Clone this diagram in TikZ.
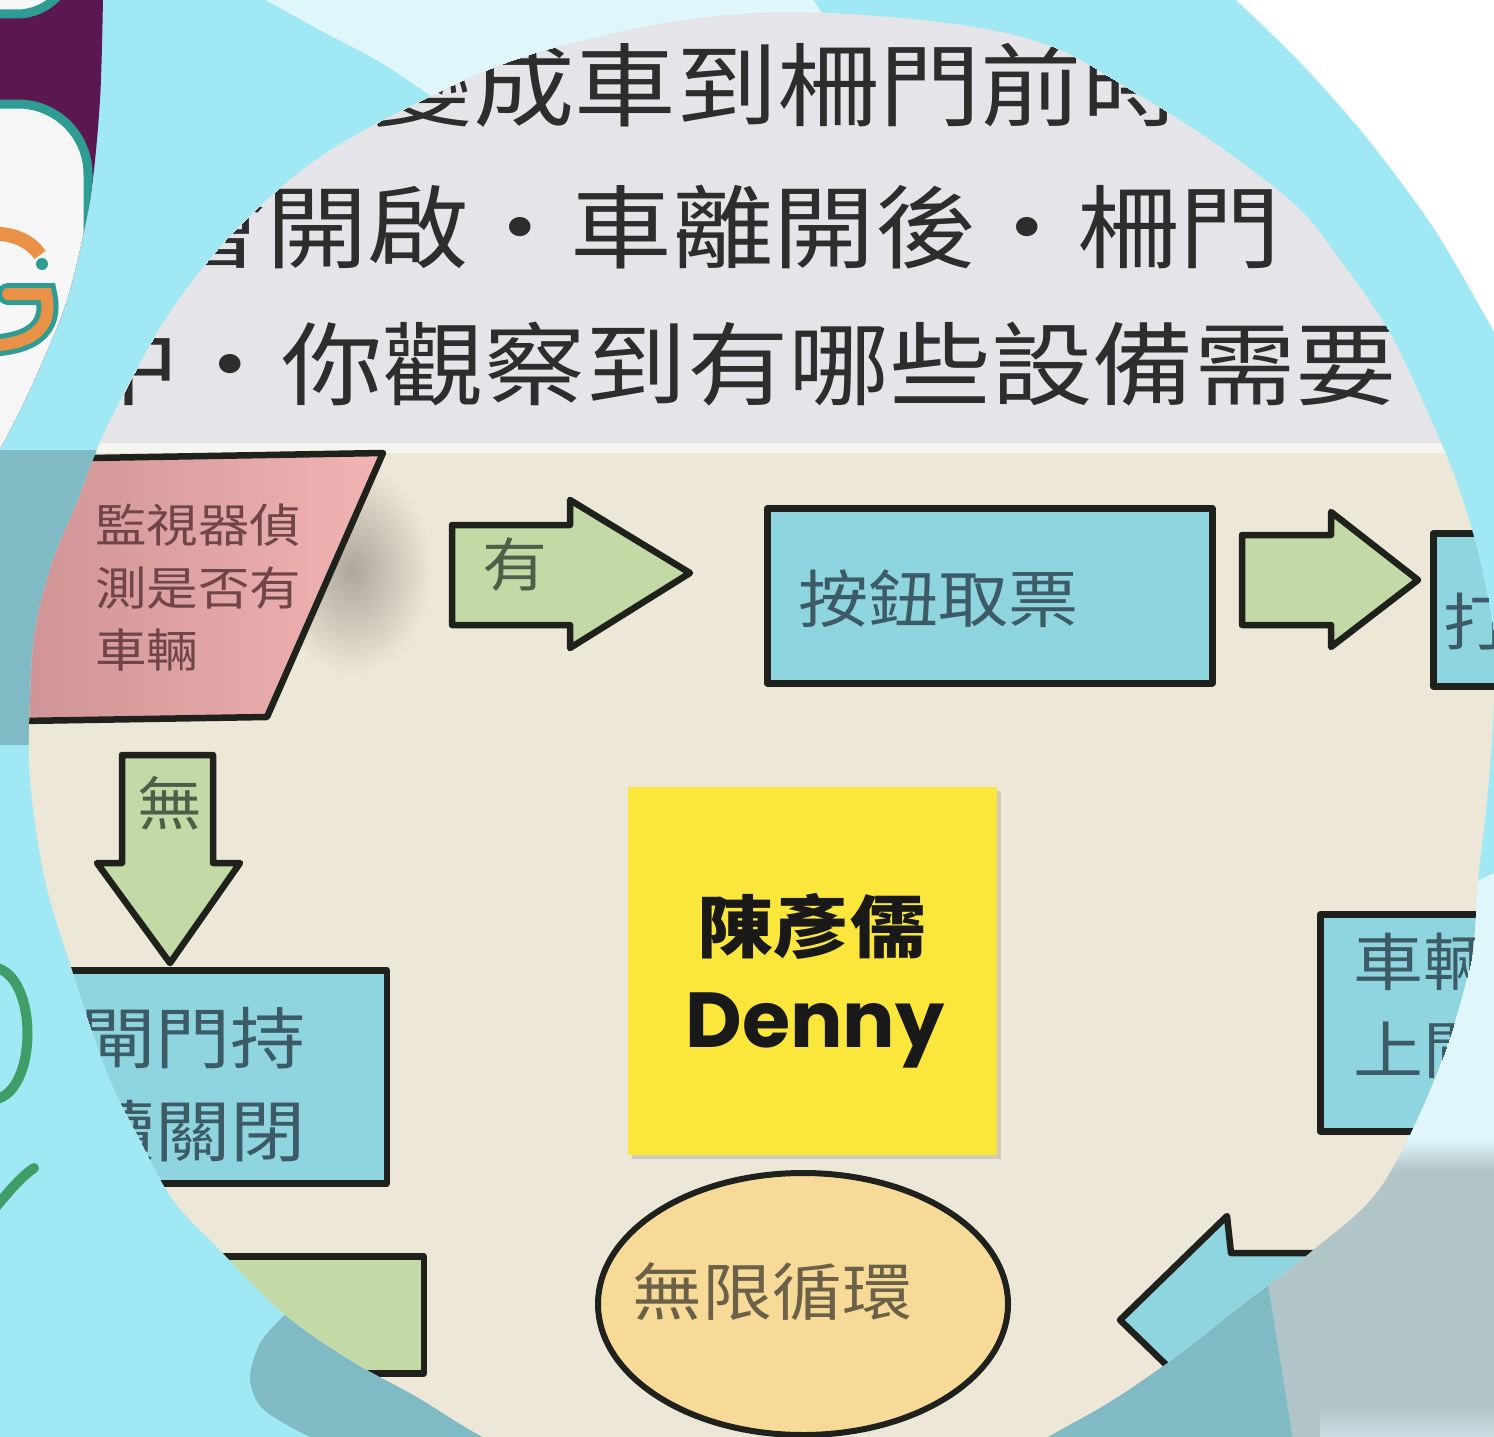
\documentclass[tikz,border=0pt]{standalone}
\usepackage{fontspec}
\newfontfamily\cjk{Noto Sans CJK TC}[FakeStretch=1.12]
\newfontfamily\pop{Poppins}
\usetikzlibrary{shapes.geometric}
\definecolor{cyanbg}{HTML}{A0E9F4}
\definecolor{lightbg}{HTML}{DFF6FA}
\definecolor{tealbg}{HTML}{80BAC5}
\definecolor{graybg}{HTML}{B1C4C8}
\definecolor{purplebg}{HTML}{5B1850}
\definecolor{logoteal}{HTML}{2E9C93}
\definecolor{logoorange}{HTML}{EA9148}
\definecolor{lettergreen}{HTML}{3F9E68}
\definecolor{beige}{HTML}{EDE7D7}
\definecolor{slidegray}{HTML}{E5E5E9}
\definecolor{stripc}{HTML}{F6F4EE}
\definecolor{ink}{HTML}{2D2D2D}
\definecolor{outline}{HTML}{1F211C}
\definecolor{boxblue}{HTML}{8FD5E0}
\definecolor{boxtext}{HTML}{3D5B66}
\definecolor{arrowgreen}{HTML}{C3DAA7}
\definecolor{greentext}{HTML}{4E5E48}
\definecolor{pinkA}{HTML}{C98E90}
\definecolor{pinkB}{HTML}{F2B4B3}
\definecolor{pinktext}{HTML}{6F4547}
\definecolor{sticky}{HTML}{FBE73C}
\definecolor{ellfill}{HTML}{F7DA98}
\definecolor{elltext}{HTML}{6B6148}
\definecolor{smudge}{HTML}{ADA69A}
\tikzset{
  shapeline/.style={draw=outline, line width=6.5, line join=round},
  boxnode/.style={shapeline, fill=boxblue, inner sep=0, rectangle},
  greenbox/.style={shapeline, fill=arrowgreen, inner sep=0, rectangle},
  rowtxt/.style={font=\cjk\fontsize{90.6}{100}\selectfont, text=ink, inner sep=0, anchor=base west},
  boxtxt/.style={font=\cjk\fontsize{62.5}{70}\selectfont, text=boxtext, inner sep=0},
  gatetxt/.style={font=\cjk\fontsize{67}{70}\selectfont, text=boxtext, inner sep=0, anchor=base east},
  greentxt/.style={font=\cjk\fontsize{58}{60}\selectfont, text=greentext, inner sep=0},
  pinktxt/.style={font=\cjk\fontsize{46}{50}\selectfont, text=pinktext, inner sep=0, anchor=base west},
}
\begin{document}
\begin{tikzpicture}[x=1pt,y=-1pt]
\useasboundingbox (0,0) rectangle (1494,1437);
\clip (0,0) rectangle (1494,1437);
% ---------- background pieces ----------
\fill[cyanbg] (-2,-2) rectangle (1496,1440);
\fill[white] plot[smooth] coordinates {(1234,-2) (1300,62) (1367,138) (1435,230) (1496,335)} -- (1496,-2) -- cycle;
\fill[lightbg] plot[smooth] coordinates {(262,-2) (320,30) (380,62) (431,96)} -- (620,80) -- (840,40) -- (812,-2) -- cycle;
\fill[lightbg] (1496,872) -- (1460,890) -- (1380,1160) -- (1496,1160) -- cycle;
\fill[graybg] (1330,1160) -- (1496,1160) -- (1496,1440) -- (1293,1440) -- (1268,1285) -- cycle;
\shade[top color=lightbg, bottom color=graybg] (1300,1138) rectangle (1496,1172);
\shade[top color=graybg, bottom color=lightbg!60!graybg] (1320,1405) rectangle (1496,1440);
\fill[tealbg] (940,1440) -- (940,1290) -- (1268,1285) -- (1293,1440) -- cycle;
\fill[tealbg] plot[smooth] coordinates {(300,1300) (262,1340) (250,1378) (262,1408) (300,1432) (340,1450)} -- (600,1450) -- (600,1300) -- cycle;
\fill[tealbg] (-2,450) rectangle (160,745);
% ---------- logo ----------
\begin{scope}
\clip plot[smooth] coordinates {(103,-2) (100,100) (90,200) (67,300) (33,383) (5,440)} -- (-2,452) -- (-2,-2) -- cycle;
\fill[purplebg] (-2,-2) rectangle (160,460);
\draw[logoteal, line width=9, fill=white!94!gray, rounded corners=55] (-200,-200) rectangle (72,14);
\draw[logoteal, line width=9, fill=white!93!gray, rounded corners=70] (-200,104) rectangle (88,900);
\draw[logoteal, line width=22, line cap=round] (8,294) -- (46,294) .. controls (54,330) and (30,346) .. (-20,346);
\draw[logoorange, line width=12, line cap=round] (8,294) -- (46,294) .. controls (54,330) and (30,346) .. (-20,346);
\draw[logoorange, line width=14] (-20,234) .. controls (10,231) and (30,240) .. (40,255);
\fill[logoteal] (42,264) circle (6);
\end{scope}
% green letters
\draw[lettergreen, line width=10] (-10,967) .. controls (40,967) and (40,1100) .. (-10,1100);
\draw[lettergreen, line width=10, line cap=round] (-5,1208) .. controls (10,1190) and (22,1176) .. (34,1168);
% ---------- round photo ----------
\begin{scope}
\clip plot[smooth cycle, tension=0.55] coordinates {(790,12) (900,18) (990,30) (1060,50) (1130,90) (1210,140) (1295,205) (1340,260) (1388,330) (1422,400) (1456,480) (1480,560) (1494,640) (1493,720) (1487,800) (1478,880) (1470,965) (1435,1078) (1380,1188) (1313,1250) (1247,1301) (1163,1366) (1080,1419) (950,1480) (750,1505) (560,1470) (483,1437) (417,1397) (350,1360) (283,1313) (217,1247) (173,1200) (140,1140) (107,1073) (73,973) (45,880) (30,780) (30,700) (35,630) (52,563) (78,500) (95,455) (113,415) (167,317) (233,233) (320,157) (431,96) (520,58) (620,32) (700,18)};
\fill[beige] (0,0) rectangle (1494,1437);
\fill[slidegray] (0,0) rectangle (1494,443);
\fill[stripc] (0,443) rectangle (1494,453);
% slide text
\node[rowtxt] (row1) at (371.5,119) {變成車到柵門前時};
\node[rowtxt] (row2) at (164.5,261) {會開啟・車離開後・柵門};
\node[rowtxt] (row3) at (78,398) {中・你觀察到有哪些設備需要};
% detector parallelogram
\shade[inner color=smudge, outer color=beige] (352,570) ellipse [x radius=80, y radius=105];
\shadedraw[left color=pinkA, right color=pinkB, draw=outline, line width=6.5, line join=round] (90,458) -- (383,453) -- (267,717) -- (-40,722) -- cycle;
\node[pinktxt] (det1) at (95,542) {監視器偵};
\node[pinktxt] (det2) at (95,605) {測是否有};
\node[pinktxt] (det3) at (95,667) {車輛};
% yes arrow
\path[fill=arrowgreen, shapeline] (452,525) -- (570,525) -- (570,500) -- (690,573) -- (570,648) -- (570,625) -- (452,625) -- cycle;
\node[greentxt] (yes) at (515,565) {有};
% ticket box
\node[boxnode, minimum width=445, minimum height=175, anchor=north west] (ticket) at (764,505) {};
\node[boxtxt, anchor=base west] (tickettxt) at (798,622) {按鈕取票};
% second arrow
\path[fill=arrowgreen, shapeline] (1242,535) -- (1331,535) -- (1331,512) -- (1418,580) -- (1331,647) -- (1331,625) -- (1242,625) -- cycle;
% open box
\node[boxnode, minimum width=200, minimum height=153, anchor=north west] (open) at (1430,530) {};
\node[boxtxt, anchor=base west] (opentxt) at (1443,645) {打開柵門};
% no arrow
\path[fill=arrowgreen, shapeline] (122,755) -- (213,755) -- (213,863) -- (240,863) -- (170,963) -- (97,863) -- (122,863) -- cycle;
\node[greentxt] (no) at (170,803) {無};
% closed box
\node[boxnode, minimum width=520, minimum height=213, anchor=north east] (closed) at (390,967) {};
\node[gatetxt] (closed1) at (306,1063) {閘門持};
\node[gatetxt] (closed2) at (306,1156) {續關閉};
% green box bottom left
\node[greenbox, minimum width=540, minimum height=117, anchor=north east] (gbox) at (427,1253) {};
% sticky note
\fill[black, opacity=0.12] (632,791) rectangle (1001,1159);
\node[fill=sticky, minimum width=369, minimum height=368, anchor=north west, inner sep=0] (note) at (628,787) {};
\node[font=\cjk\bfseries\fontsize{68}{70}\selectfont, anchor=base, inner sep=0, text=black!90] (name) at (812,952) {陳彥儒};
\node[font=\pop\bfseries\fontsize{78}{80}\selectfont, anchor=base, inner sep=0, text=black!90] (denny) at (815,1047) {Denny};
% loop ellipse
\node[ellipse, draw=outline, line width=6, fill=ellfill, minimum width=410, minimum height=262, inner sep=0] (loop) at (803,1304) {};
\node[boxtxt, text=elltext, anchor=base west] (looptxt) at (632,1315) {無限循環};
% car box
\node[boxnode, minimum width=300, minimum height=217, anchor=north west] (car) at (1317,911) {};
\node[boxtxt, anchor=base west] (car1) at (1353,985) {車輛通過};
\node[boxtxt, anchor=base west] (car2) at (1353,1073) {上閘門};
% back arrow
\path[fill=boxblue, shapeline] (1120,1320) -- (1227,1216) -- (1231,1253) -- (1420,1253) -- (1420,1387) -- (1231,1387) -- (1227,1424) -- cycle;
\end{scope}
\end{tikzpicture}
\end{document}
